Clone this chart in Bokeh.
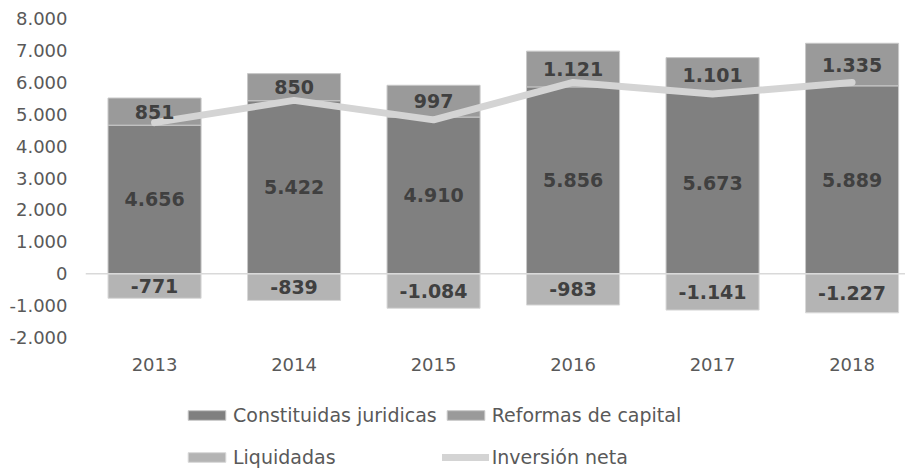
from bokeh.plotting import figure
from bokeh.layouts import column
from bokeh.models import ColumnDataSource, Range1d, FixedTicker, Span, Legend, LegendItem
from bokeh.embed import file_html
from bokeh.resources import INLINE
from bokeh.core.properties import value

years = ["2013", "2014", "2015", "2016", "2017", "2018"]
constituidas = [4656, 5422, 4910, 5856, 5673, 5889]
reformas = [851, 850, 997, 1121, 1101, 1335]
liquidadas = [-771, -839, -1084, -983, -1141, -1227]
inversion_neta = [4736, 5433, 4823, 5994, 5633, 5997]
y_ticks = [-2000, -1000, 0, 1000, 2000, 3000, 4000, 5000, 6000, 7000, 8000]
series_names = ["Constituidas juridicas", "Reformas de capital", "Liquidadas", "Inversión neta"]

C_CONST = "#808080"
C_REF = "#9a9a9a"
C_LIQ = "#b4b4b4"
C_LINE = "#d4d4d4"
TXT = "#404040"
AXTXT = "#595959"
FONT = "DejaVu Sans"


def fmt(v):
    return f"{v:,}".replace(",", ".")


x = list(range(len(years)))
src = ColumnDataSource(dict(
    x=x,
    constituidas=constituidas,
    reformas=reformas,
    liquidadas=liquidadas,
    neta=inversion_neta,
    ref_bottom=constituidas,
    ref_top=[c + r for c, r in zip(constituidas, reformas)],
    y_const=[c / 2 for c in constituidas],
    y_ref=[c + r / 2 for c, r in zip(constituidas, reformas)],
    y_liq=[l / 2 for l in liquidadas],
    t_const=[fmt(v) for v in constituidas],
    t_ref=[fmt(v) for v in reformas],
    t_liq=[fmt(v) for v in liquidadas],
))

p = figure(width=905, height=380, output_backend="svg", toolbar_location=None,
           x_range=Range1d(-0.495, 5.383), y_range=Range1d(-2000, 8000),
           min_border_left=85, min_border_right=0, min_border_top=18, min_border_bottom=43)
p.outline_line_color = None
p.grid.visible = False

bw = 0.667
BAR_STYLES = [
    dict(fill_color=C_CONST, line_color="#c8c8c8", line_width=1),
    dict(fill_color=C_REF, line_color="#c8c8c8", line_width=1),
    dict(fill_color=C_LIQ, line_color="#d8d8d8", line_width=1),
]
LINE_STYLE = dict(line_color=C_LINE, line_width=7, line_cap="round", line_join="round")
BAR_COLS = [("zero", "constituidas"), ("ref_bottom", "ref_top"), ("liquidadas", "zero")]
src.data["zero"] = [0] * len(x)


def add_series(fig, width):
    rs = [fig.vbar(x="x", bottom=b, top=t, width=width, source=src, **st)
          for (b, t), st in zip(BAR_COLS, BAR_STYLES)]
    return rs


add_series(p, bw)
p.add_layout(Span(location=0, dimension="width", line_color="#d9d9d9", line_width=1.5))
p.line(x="x", y="neta", source=src, **LINE_STYLE)

for ycol, tcol in (("y_const", "t_const"), ("y_ref", "t_ref"), ("y_liq", "t_liq")):
    p.text(x="x", y=ycol, text=tcol, source=src, text_align="center",
           text_baseline="middle", text_font=value(FONT), text_font_size="19px",
           text_font_style="bold", text_color=TXT)

p.yaxis.ticker = FixedTicker(ticks=y_ticks)
p.yaxis.major_label_overrides = {t: fmt(t) for t in y_ticks}
p.xaxis.ticker = FixedTicker(ticks=x)
p.xaxis.major_label_overrides = {i: y for i, y in enumerate(years)}
for ax in (p.xaxis, p.yaxis):
    ax.axis_line_color = None
    ax.major_tick_line_color = None
    ax.minor_tick_line_color = None
    ax.major_tick_out = 0
    ax.major_tick_in = 0
    ax.major_label_text_font = FONT
    ax.major_label_text_font_size = "18px"
    ax.major_label_text_color = AXTXT
    ax.major_label_standoff = 18
p.xaxis.major_label_standoff = 20

# legend panel: same series, drawn outside its visible range so only the legend shows
pl = figure(width=905, height=88, output_backend="svg", toolbar_location=None,
            x_range=Range1d(100, 101), y_range=Range1d(100000, 100001),
            x_axis_type=None, y_axis_type=None, min_border=0)
pl.outline_line_color = None
pl.grid.visible = False
lr = add_series(pl, bw)
lr.append(pl.line(x="x", y="neta", source=src, **LINE_STYLE))

order = [0, 2, 1, 3]  # column-major fill -> row-major appearance
legend = Legend(items=[LegendItem(label=series_names[i], renderers=[lr[i]]) for i in order],
                ncols=2, location=(98, -7))
legend.glyph_width = 47
legend.glyph_height = 12
legend.label_standoff = 3
legend.label_height = 37
legend.spacing = 5
legend.padding = 0
legend.margin = 0
legend.border_line_color = None
legend.background_fill_alpha = 0
legend.label_text_font = FONT
legend.label_text_font_size = "19px"
legend.label_text_color = AXTXT
pl.add_layout(legend, "center")

layout = column(p, pl, spacing=0)
open("out.html", "w").write(file_html(layout, INLINE))
